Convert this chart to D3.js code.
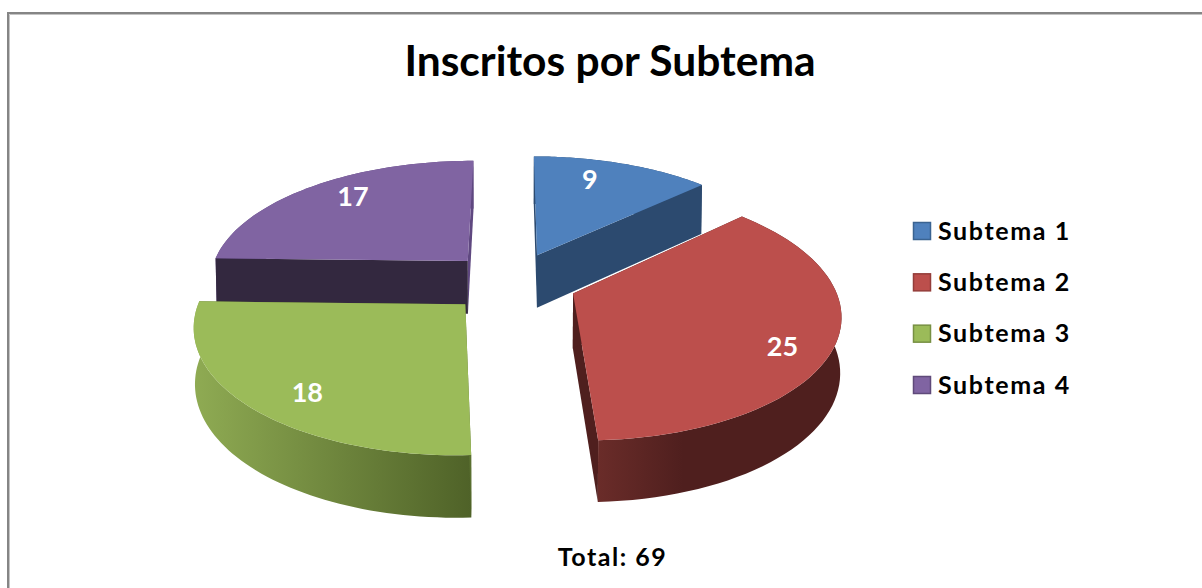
<!DOCTYPE html>
<html><head><meta charset="utf-8">
<script src="https://cdn.jsdelivr.net/npm/d3@7"></script>
<style>html,body{margin:0;padding:0;background:#fff;overflow:hidden}svg{display:block}</style>
</head><body><svg id="c" width="1202" height="588"></svg>
<script>
const categories = ["Subtema 1","Subtema 2","Subtema 3","Subtema 4"];
const values = [9,25,18,17];
const titleText = "Inscritos por Subtema";
const totalLabel = "Total: " + d3.sum(values);
const topColors = ["#4f81bd","#bc4f4c","#9bbb59","#8064a2"];
const legendStroke = ["#3a6391","#943d3a","#779043","#5f4a7a"];
const wallStart = ["#2c4a6f","#4f1f1e","#5a7030","#33283f"];
const wallEnd   = ["#2c4a6f","#4f1f1e","#5a7030","#5f4880"];
const rimStops = [
  [["0","#2c4a6f"],["1","#2c4a6f"]],
  [["0","#6a2c29"],["0.35","#4f1f1e"],["1","#4f1f1e"]],
  [["0","#8fab53"],["1","#4f6228"]],
  [["0","#5f4880"],["1","#5f4880"]]
];
const labelRadius = [0.775,0.834,0.811,0.794];
const labelSweep = [0.39,0.55,0.45,0.55];
const paintOrder = [3,0,2,1];

const FONT = "Lato, Carlito, Calibri, sans-serif";
const explode = 0.25, tilt = 0.15, depth = 54, sink = 0.004;
const xs = d3.scaleLinear().domain([-1,1]).range([512-260,512+260]);
const ys = d3.scaleLinear().domain([-1,1]).range([282-121,282+121]);
const cx = xs(0), cy = ys(0);
const project = (p,q,z=0)=>{
  const w = 1/(1-tilt*q), s = 1 - sink*z;
  return [cx+(xs(p)-cx)*w*s, cy+(ys(q)-cy)*w + z*depth*Math.pow(w,0.75)];
};
const svg = d3.select("#c");
const defs = svg.append("defs");
const line = d3.line();
const pie = d3.pie().sort(null).startAngle(0).endAngle(2*Math.PI)(values);

svg.append("path").attr("d","M8,588V13H1202").attr("fill","none").attr("stroke","#858585").attr("stroke-width",2);
svg.append("path").attr("d","M9.5,588V14.5H1202").attr("fill","none").attr("stroke","#c4c4c4").attr("stroke-width",1);

paintOrder.forEach(i=>{
  const a = pie[i], mid=(a.startAngle+a.endAngle)/2;
  const ox = explode*Math.sin(mid), oy = -explode*Math.cos(mid);
  const P = (r,t,z=0)=>project(ox+r*Math.sin(t), oy-r*Math.cos(t), z);
  const n = 60;
  const angles = d3.range(n+1).map(k=>a.startAngle+(a.endAngle-a.startAngle)*k/n);
  const arcTop = angles.map(t=>P(1,t,0));
  const arcBot = angles.map(t=>P(1,t,1));
  const apex = P(0,0,0), apexB = P(0,0,1);
  const g = svg.append("g");
  const xr = d3.extent(arcTop,d=>d[0]);
  const grad = defs.append("linearGradient").attr("id","rim"+i).attr("gradientUnits","userSpaceOnUse")
    .attr("x1",xr[0]).attr("x2",xr[1]).attr("y1",0).attr("y2",0);
  rimStops[i].forEach(s=>grad.append("stop").attr("offset",s[0]).attr("stop-color",s[1]));
  g.append("path").attr("d",line(arcTop.concat(arcBot.slice().reverse()))+"Z").attr("fill",`url(#rim${i})`);
  g.append("path").attr("d",line([apex,arcTop[n],arcBot[n],apexB])+"Z").attr("fill",wallEnd[i]);
  g.append("path").attr("d",line([apex,arcTop[0],arcBot[0],apexB])+"Z").attr("fill",wallStart[i]);
  g.append("path").attr("d",line([apex].concat(arcTop))+"Z").attr("fill",topColors[i]);
});

paintOrder.forEach(i=>{
  const a = pie[i], mid=(a.startAngle+a.endAngle)/2;
  const t = a.startAngle+(a.endAngle-a.startAngle)*labelSweep[i], r = labelRadius[i];
  const p = project(explode*Math.sin(mid)+r*Math.sin(t), -explode*Math.cos(mid)-r*Math.cos(t));
  svg.append("text").attr("x",p[0]).attr("y",p[1]+9.5).attr("text-anchor","middle")
    .attr("font-family",FONT).attr("font-weight",700).attr("font-size",27).attr("fill","#fff").text(values[i]);
});

svg.append("text").attr("x",610).attr("y",76).attr("text-anchor","middle")
  .attr("font-family",FONT).attr("font-weight",700).attr("font-size",42.5).attr("fill","#000").text(titleText);
svg.append("text").attr("x",612.5).attr("y",566).attr("text-anchor","middle")
  .attr("font-family",FONT).attr("font-weight",700).attr("font-size",25).attr("letter-spacing",1.5).attr("fill","#000").text(totalLabel);

const ly = d3.scalePoint().domain(categories).range([231,385]);
const leg = svg.append("g").selectAll("g").data(categories).join("g")
  .attr("transform",d=>`translate(0,${ly(d)})`);
leg.append("rect").attr("x",913.5).attr("y",-8.5).attr("width",17).attr("height",17)
  .attr("fill",(d,i)=>topColors[i]).attr("stroke",(d,i)=>legendStroke[i]).attr("stroke-width",1.5);
leg.append("text").attr("x",938).attr("y",8.5).attr("font-family",FONT).attr("font-weight",700)
  .attr("font-size",25).attr("letter-spacing",1.6).attr("fill","#000").text(d=>d);
</script></body></html>
